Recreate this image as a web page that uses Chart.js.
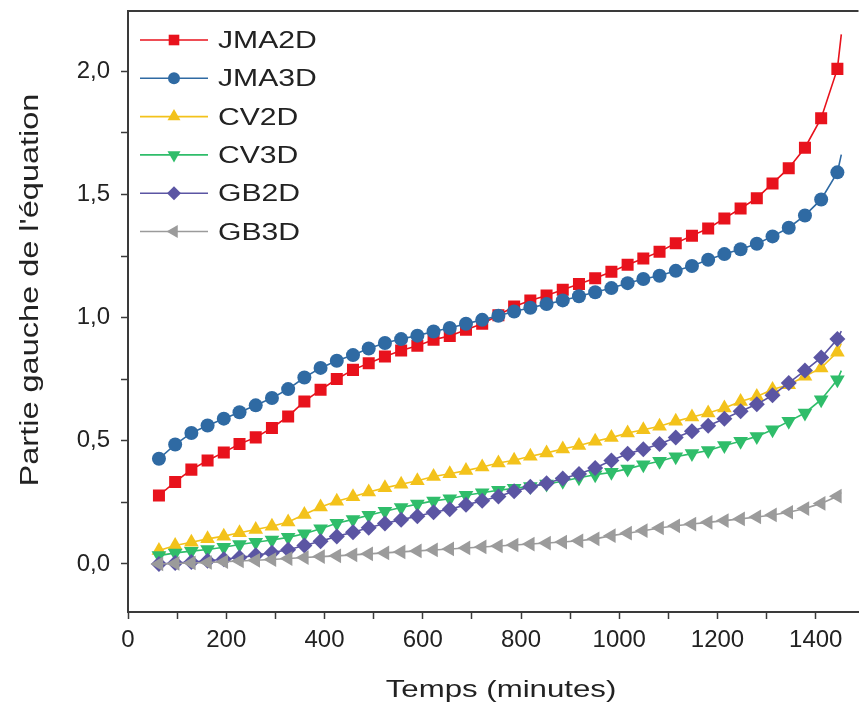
<!DOCTYPE html>
<html lang="fr">
<head>
<meta charset="utf-8">
<title>Partie gauche de l'équation</title>
<script src="https://cdn.jsdelivr.net/npm/chart.js@4.4.1/dist/chart.umd.min.js"></script>
<style>
    html, body { margin: 0; padding: 0; background: #fff; }
    #wrap { position: relative; width: 867px; height: 709px; }
</style>
</head>
<body>
<div id="wrap"><canvas id="chart"></canvas></div>
<script>
// Data
const times = [63, 96, 129, 162, 195, 227, 260, 293, 326, 359, 392, 425, 458, 490, 523, 556, 589, 622, 655, 688,
    721, 754, 786, 819, 852, 885, 918, 951, 984, 1017, 1049, 1082, 1115, 1148, 1181, 1214, 1247, 1280, 1312, 1345,
    1378, 1411, 1444, 1452];

const jma2d = [0.278, 0.333, 0.383, 0.420, 0.453, 0.487, 0.514, 0.552, 0.599, 0.660, 0.707, 0.751, 0.788, 0.815,
    0.842, 0.867, 0.886, 0.910, 0.926, 0.951, 0.975, 1.010, 1.045, 1.070, 1.090, 1.113, 1.137, 1.160, 1.186, 1.215,
    1.240, 1.268, 1.302, 1.333, 1.362, 1.403, 1.443, 1.485, 1.545, 1.607, 1.690, 1.810, 2.010, 2.150];
const jma3d = [0.427, 0.485, 0.532, 0.562, 0.590, 0.616, 0.644, 0.674, 0.710, 0.757, 0.796, 0.825, 0.848, 0.875,
    0.897, 0.913, 0.927, 0.944, 0.958, 0.975, 0.991, 1.008, 1.025, 1.040, 1.055, 1.070, 1.087, 1.103, 1.120, 1.140,
    1.157, 1.170, 1.190, 1.210, 1.235, 1.258, 1.278, 1.300, 1.330, 1.365, 1.415, 1.480, 1.590, 1.662];
const cv2d = [0.055, 0.075, 0.088, 0.102, 0.113, 0.127, 0.140, 0.153, 0.170, 0.201, 0.231, 0.255, 0.273, 0.292,
    0.309, 0.324, 0.338, 0.355, 0.366, 0.379, 0.394, 0.410, 0.421, 0.437, 0.451, 0.467, 0.481, 0.498, 0.513, 0.532,
    0.545, 0.559, 0.579, 0.597, 0.613, 0.633, 0.660, 0.680, 0.708, 0.728, 0.762, 0.796, 0.860, 0.895];
const cv3d = [0.034, 0.045, 0.052, 0.059, 0.068, 0.079, 0.088, 0.097, 0.108, 0.123, 0.143, 0.165, 0.181, 0.198,
    0.214, 0.229, 0.243, 0.256, 0.265, 0.279, 0.289, 0.299, 0.307, 0.315, 0.325, 0.336, 0.350, 0.362, 0.372, 0.386,
    0.403, 0.417, 0.435, 0.448, 0.461, 0.481, 0.498, 0.518, 0.545, 0.579, 0.613, 0.667, 0.748, 0.785];
const gb2d = [0.000, 0.004, 0.008, 0.013, 0.019, 0.026, 0.035, 0.046, 0.058, 0.075, 0.092, 0.112, 0.129, 0.147,
    0.164, 0.180, 0.194, 0.210, 0.222, 0.240, 0.257, 0.274, 0.295, 0.313, 0.328, 0.347, 0.365, 0.390, 0.420, 0.447,
    0.466, 0.487, 0.513, 0.539, 0.561, 0.590, 0.620, 0.648, 0.685, 0.735, 0.785, 0.838, 0.913, 0.945];
const gb3d = [0.000, 0.002, 0.004, 0.006, 0.009, 0.012, 0.015, 0.018, 0.022, 0.026, 0.030, 0.033, 0.037, 0.041,
    0.045, 0.049, 0.053, 0.057, 0.061, 0.065, 0.069, 0.073, 0.077, 0.081, 0.085, 0.089, 0.094, 0.102, 0.115, 0.125,
    0.135, 0.146, 0.155, 0.162, 0.169, 0.176, 0.183, 0.191, 0.199, 0.210, 0.225, 0.246, 0.275, 0.290];

const seriesNames = ['JMA2D', 'JMA3D', 'CV2D', 'CV3D', 'GB2D', 'GB3D'];
const xTickValues = [0, 200, 400, 600, 800, 1000, 1200, 1400];
const xTickLabels = ['0', '200', '400', '600', '800', '1000', '1200', '1400'];
const yTickValues = [0, 0.5, 1.0, 1.5, 2.0];
const yTickLabels = ['0,0', '0,5', '1,0', '1,5', '2,0'];
const xTitle = 'Temps (minutes)';
const yTitle = "Partie gauche de l'équation";

const axisColor = '#3a3a3a';
const textColor = '#222';
const fontFamily = 'Arial, "Liberation Sans", sans-serif';

const styles = [
    { color: '#e8121c', pointStyle: 'rect', rotation: 0, radius: 8.5 },
    { color: '#2f6aa3', pointStyle: 'circle', rotation: 0, radius: 7 },
    { color: '#f3c21b', pointStyle: 'triangle', rotation: 0, radius: 8.5 },
    { color: '#2fbd6a', pointStyle: 'triangle', rotation: 180, radius: 8.5 },
    { color: '#5b55a3', pointStyle: 'rectRot', rotation: 0, radius: 8 },
    { color: '#9b9b9b', pointStyle: 'triangle', rotation: 270, radius: 8.5 }
];

const values = [jma2d, jma3d, cv2d, cv3d, gb2d, gb3d];

function buildDatasets() {
    return values.map((vals, i) => {
        const st = styles[i];
        const last = vals.length - 1;
        return {
            label: seriesNames[i],
            data: vals.map((v, k) => ({ x: times[k], y: v })),
            borderColor: st.color,
            backgroundColor: st.color,
            borderWidth: 1.6,
            pointStyle: st.pointStyle,
            pointRotation: st.rotation,
            // last entry is only the end of the drawn curve, no marker there
            pointRadius: (c) => c.dataIndex === last ? 0 : st.radius,
            pointBorderWidth: 0,
            tension: 0,
            order: values.length - i
        };
    });
}

function minorTicks(from, to, step) {
    const out = [];
    for (let v = from; v <= to + 1e-9; v += step) out.push({ value: Math.round(v * 1000) / 1000 });
    return out;
}

// Top frame line, axis titles and the in-plot legend
const decorPlugin = {
    id: 'decor',
    afterDraw(chart) {
        const ctx = chart.ctx;
        const area = chart.chartArea;
        ctx.save();

        ctx.strokeStyle = axisColor;
        ctx.lineWidth = 2;
        ctx.beginPath();
        ctx.moveTo(area.left - 1, area.top);
        ctx.lineTo(area.right, area.top);
        ctx.stroke();

        ctx.fillStyle = textColor;

        // x title
        ctx.save();
        ctx.font = '24px ' + fontFamily;
        ctx.translate(501, 697);
        ctx.scale(1.3, 1);
        ctx.textAlign = 'center';
        ctx.textBaseline = 'alphabetic';
        ctx.fillText(xTitle, 0, 0);
        ctx.restore();

        // y title
        ctx.save();
        ctx.font = '26px ' + fontFamily;
        ctx.translate(38, 290);
        ctx.rotate(-Math.PI / 2);
        ctx.scale(1.25, 1);
        ctx.textAlign = 'center';
        ctx.textBaseline = 'alphabetic';
        ctx.fillText(yTitle, 0, 0);
        ctx.restore();

        // legend
        const rowY0 = 40;
        const rowGap = 38.3;
        seriesNames.forEach((name, i) => {
            const st = styles[i];
            const y = rowY0 + i * rowGap;
            ctx.strokeStyle = st.color;
            ctx.lineWidth = 1.6;
            ctx.beginPath();
            ctx.moveTo(140, y);
            ctx.lineTo(208, y);
            ctx.stroke();

            ctx.fillStyle = st.color;
            Chart.helpers.drawPoint(ctx, {
                pointStyle: st.pointStyle,
                rotation: st.rotation,
                radius: st.radius - 1,
                borderWidth: 0
            }, 174, y);

            ctx.save();
            ctx.fillStyle = textColor;
            ctx.font = '23px ' + fontFamily;
            ctx.translate(218, y + 8);
            ctx.scale(1.31, 1);
            ctx.textAlign = 'left';
            ctx.textBaseline = 'alphabetic';
            ctx.fillText(name, 0, 0);
            ctx.restore();
        });

        ctx.restore();
    }
};

function createChart() {
    const ctx = document.getElementById('chart').getContext('2d');

    return new Chart(ctx, {
        type: 'line',
        data: { datasets: buildDatasets() },
        options: {
            responsive: true,
            maintainAspectRatio: false,
            animation: false,
            layout: { padding: { top: 11, right: 0, bottom: 0, left: 0 } },
            plugins: {
                legend: { display: false },
                tooltip: { enabled: false }
            },
            scales: {
                x: {
                    type: 'linear',
                    min: 0,
                    max: 1487,
                    border: { color: axisColor, width: 2 },
                    grid: {
                        drawOnChartArea: false,
                        color: axisColor,
                        tickLength: 7,
                        tickWidth: 1.5
                    },
                    ticks: {
                        autoSkip: false,
                        maxRotation: 0,
                        padding: 7,
                        color: textColor,
                        font: { family: fontFamily, size: 24 },
                        callback: (v) => {
                            const idx = xTickValues.indexOf(v);
                            return idx >= 0 ? xTickLabels[idx] : '';
                        }
                    },
                    afterBuildTicks: (s) => { s.ticks = minorTicks(0, 1400, 100); },
                    afterFit: (s) => {
                        s.height = 97;
                        s.paddingLeft = 0;
                        s.paddingRight = 0;
                    }
                },
                y: {
                    type: 'linear',
                    min: -0.195,
                    max: 2.245,
                    border: { color: axisColor, width: 2 },
                    grid: {
                        drawOnChartArea: false,
                        color: axisColor,
                        tickLength: 7,
                        tickWidth: 1.5
                    },
                    ticks: {
                        autoSkip: false,
                        padding: 11,
                        color: textColor,
                        font: { family: fontFamily, size: 24 },
                        callback: (v) => {
                            const idx = yTickValues.findIndex(t => Math.abs(t - v) < 1e-6);
                            return idx >= 0 ? yTickLabels[idx] : '';
                        }
                    },
                    afterBuildTicks: (s) => { s.ticks = minorTicks(0, 2.0, 0.25); },
                    afterFit: (s) => {
                        s.width = 128;
                        s.paddingTop = 0;
                        s.paddingBottom = 0;
                    }
                }
            }
        },
        plugins: [decorPlugin]
    });
}

document.addEventListener('DOMContentLoaded', () => {
    createChart();
});
</script>
</body>
</html>
